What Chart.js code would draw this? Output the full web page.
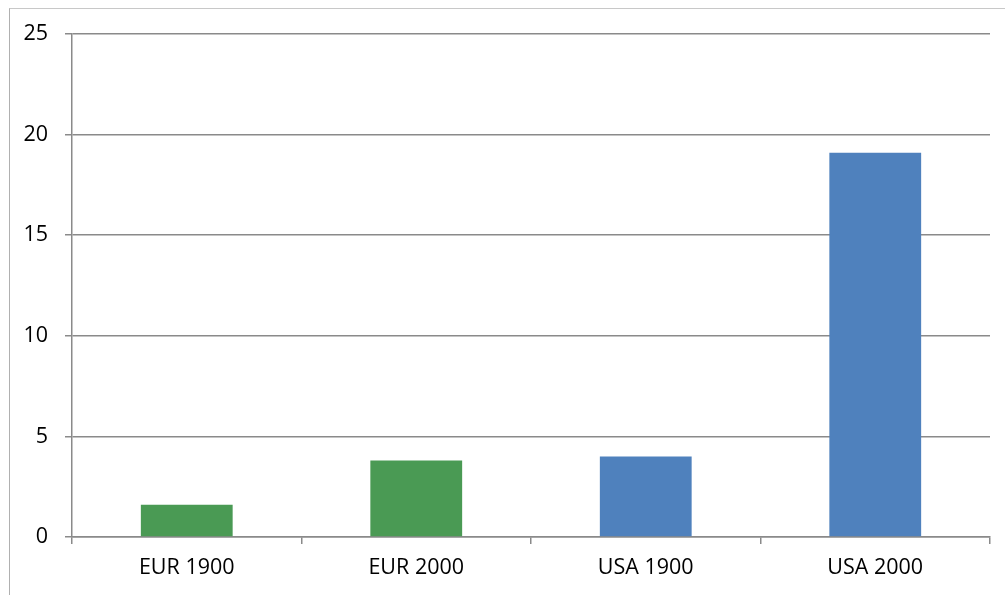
<!DOCTYPE html>
<html>
<head>
<meta charset="utf-8">
<script src="https://cdn.jsdelivr.net/npm/chart.js@4"></script>
<style>
  body { margin: 0; background: #fff; }
  #frame {
    position: absolute; left: 9px; top: 8px; width: 1100px; height: 700px;
    border-left: 1.5px solid #b0b0b0; border-top: 1.5px solid #c8c8c8;
  }
  #wrap { position: absolute; left: 0; top: 0; width: 1005px; height: 595px; }
</style>
</head>
<body>
<div id="frame"></div>
<div id="wrap"><canvas id="chart"></canvas></div>
<script>
'use strict'

//categories and values
let categories = ['EUR 1900', 'EUR 2000', 'USA 1900', 'USA 2000'];
let values = [1.6, 3.8, 4.0, 19.1];
let yTicks = [0, 5, 10, 15, 20, 25];

//bar colours (green for EUR, blue for USA)
let green = '#4a9a54';
let blue = '#4f81bd';
let barColors = [green, green, blue, blue];

let gridColor = '#8a8a8a';
let font = { family: 'Open Sans', size: 21.5 };

let ctx = document.getElementById('chart').getContext('2d');

let myChartObj = {
  type: 'bar',
  data: {
    labels: categories,
    datasets: [{
      data: values,
      backgroundColor: barColors,
      borderWidth: 0,
      categoryPercentage: 1,
      barPercentage: 0.4
    }]
  },
  options: {
    responsive: true,
    maintainAspectRatio: false,
    animation: false,
    layout: { padding: { top: 34, right: 15, bottom: 0, left: 0 } },
    plugins: { legend: { display: false }, tooltip: { enabled: false } },
    scales: {
      x: {
        grid: { drawOnChartArea: false, drawTicks: true, tickLength: 7, color: gridColor, lineWidth: 1.5 },
        border: { color: gridColor, width: 1.5 },
        ticks: { color: '#000', font: font, padding: 11 },
        afterFit: function(scale){ scale.height = 58; }
      },
      y: {
        min: 0,
        max: 25,
        afterBuildTicks: function(scale){ scale.ticks = yTicks.map(v => ({ value: v })); },
        grid: { color: gridColor, lineWidth: 1.5, tickLength: 7 },
        border: { color: gridColor, width: 1.5 },
        ticks: { color: '#000', font: font, padding: 17 },
        afterFit: function(scale){ scale.width = 72; }
      }
    }
  }
};

new Chart(ctx, myChartObj);
</script>
</body>
</html>
